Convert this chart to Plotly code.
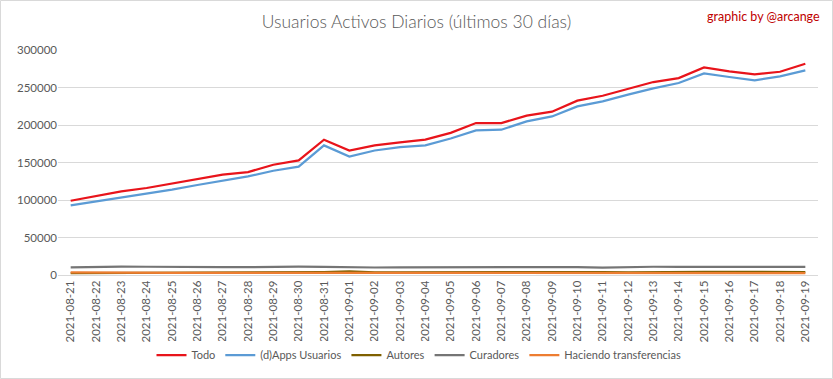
import plotly.graph_objects as go

dates = ["2021-08-21","2021-08-22","2021-08-23","2021-08-24","2021-08-25","2021-08-26","2021-08-27",
         "2021-08-28","2021-08-29","2021-08-30","2021-08-31","2021-09-01","2021-09-02","2021-09-03",
         "2021-09-04","2021-09-05","2021-09-06","2021-09-07","2021-09-08","2021-09-09","2021-09-10",
         "2021-09-11","2021-09-12","2021-09-13","2021-09-14","2021-09-15","2021-09-16","2021-09-17",
         "2021-09-18","2021-09-19"]

todo = [99000,105700,111500,116000,121700,127000,133700,137300,147000,152800,180400,166000,172800,176800,
        180400,189500,202600,202600,212400,217700,232400,239000,248000,257300,262600,276800,271500,267500,
        271000,281700]
dapps = [92800,98000,103000,107500,113700,120000,126000,131500,139000,144400,172800,158000,166000,170600,
         172800,182000,192800,193700,204800,211400,224800,231500,240400,248800,256000,268800,264000,259500,
         264800,272800]
autores = [2500,2600,2800,3500,3600,3600,3600,3600,3700,3700,4000,4800,3600,3600,3700,3800,4200,4300,
           4200,4200,4200,4000,3600,4000,4200,4200,4200,4300,3800,3800]
curadores = [10200,11000,11200,11000,10500,10400,10400,10500,11000,11100,10800,10000,10000,10100,10200,
             10800,11000,11000,11000,11000,10600,10000,10800,11000,11000,11000,10800,10000,10000,10800]
transfer = [3500,3600,3500,3000,3000,3000,3000,3100,3100,3200,3200,3000,3000,3100,3100,3000,3000,3000,
            3000,3000,3000,2800,2800,2800,2800,2800,2800,2800,2600,2600]

y_ticks = [0, 50000, 100000, 150000, 200000, 250000, 300000]

series = [
    ("Todo", todo, "#e8141b"),
    ("(d)Apps Usuarios", dapps, "#5b9bd5"),
    ("Autores", autores, "#7f6000"),
    ("Curadores", curadores, "#757575"),
    ("Haciendo transferencias", transfer, "#ed7d31"),
]

fig = go.Figure()
for name, vals, col in series:
    fig.add_trace(go.Scatter(x=dates, y=vals, name=name, mode="lines",
                             line=dict(color=col, width=2.25)))

font_fam = "Lato, 'Open Sans', sans-serif"
L, R, T, B = 58, 15, 50, 104
PW, PH = 833 - L - R, 379 - T - B
fig.update_layout(
    width=833, height=379,
    margin=dict(l=L, r=R, t=T, b=B, autoexpand=False),
    paper_bgcolor="white", plot_bgcolor="white",
    font=dict(family=font_fam, color="#595959", size=11.5),
    title=dict(text="Usuarios Activos Diarios (últimos 30 días)", x=0.5, xanchor="center",
               y=1 - 22/379, yanchor="middle",
               font=dict(size=17.5, color="#595959", family=font_fam, weight=300)),
    showlegend=True,
    legend=dict(orientation="h", x=(419 - L)/PW, xanchor="center", y=-(355 - T - PH)/PH, yanchor="middle",
                font=dict(size=11, color="#595959"), itemwidth=30, tracegroupgap=0),
    xaxis=dict(type="category", range=[-0.5, len(dates)-0.5], tickangle=-90, automargin=False,
               showgrid=False, showline=True, linecolor="#d9d9d9", linewidth=1,
               ticks="", tickfont=dict(size=11.5, color="#595959")),
    yaxis=dict(range=[0, 300000], tickvals=y_ticks, ticktext=[str(v) for v in y_ticks], automargin=False,
               showgrid=True, gridcolor="#d9d9d9", gridwidth=1, zeroline=False,
               showline=False, ticks="", tickfont=dict(size=11.5, color="#595959")),
    annotations=[dict(text="graphic by @arcange", xref="paper", yref="paper",
                      x=(822 - L)/PW, xanchor="right", y=1 + (T - 17)/PH, yanchor="middle",
                      showarrow=False, font=dict(size=12.5, color="#c00000", family=font_fam))],
    shapes=[dict(type="rect", xref="paper", yref="paper",
                 x0=-(L - 0.5)/PW, x1=1 + (R - 0.5)/PW,
                 y0=-(B - 0.5)/PH, y1=1 + (T - 0.5)/PH,
                 line=dict(color="#d9d9d9", width=1), fillcolor="rgba(0,0,0,0)", layer="below")],
)

fig.write_html("out.html", config={"displayModeBar": False},
               post_script="document.body.style.margin='0';document.body.style.overflow='hidden';")
